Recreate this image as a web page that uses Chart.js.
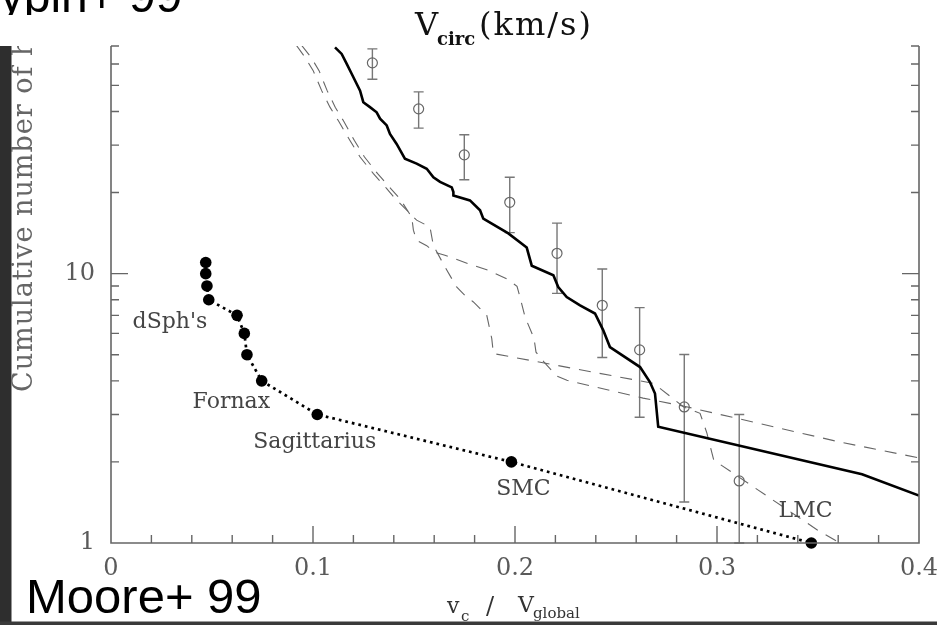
<!DOCTYPE html>
<html>
<head>
<meta charset="utf-8">
<script src="https://cdn.jsdelivr.net/npm/chart.js@4.4.0/dist/chart.umd.min.js"></script>
<style>
  html, body { margin: 0; padding: 0; background: #fff; }
  canvas { display: block; }
</style>
</head>
<body>
<canvas id="chart" width="937" height="625"></canvas>
<script>
// Спутники Млечного Пути (точки с пунктиром)
const satX = [0.0469, 0.0469, 0.0475, 0.0484, 0.0624, 0.0660, 0.0673, 0.0746, 0.1021, 0.1982, 0.3467];
const satN = [11, 10, 9, 8, 7, 6, 5, 4, 3, 2, 1];
const satNames = ["dSph's", 'Fornax', 'Sagittarius', 'SMC', 'LMC'];
const satNameX = [0.0107, 0.0404, 0.0704, 0.1907, 0.3305];
const satNameN = [6.27, 3.16, 2.25, 1.51, 1.25];

// Открытые кружки с ошибками
const obsX = [0.1294, 0.1523, 0.1749, 0.1974, 0.2208, 0.2432, 0.2617, 0.2838, 0.3110];
const obsN = [60.6, 40.9, 27.6, 18.4, 11.9, 7.63, 5.21, 3.20, 1.70];
const obsHigh = [68.3, 47.3, 32.8, 22.8, 15.4, 10.4, 7.48, 5.01, 3.0];
const obsLow = [52.7, 34.7, 22.3, 14.2, 8.45, 4.88, 2.93, 1.42, 1.0];

// Сплошная линия
const solidX = [0.1109, 0.1142, 0.1167, 0.1192, 0.1233, 0.1249, 0.1282, 0.1315, 0.1332, 0.1365, 0.1381, 0.1414, 0.1455,
  0.1513, 0.1563, 0.1596, 0.1629, 0.1687, 0.1695, 0.1695, 0.1777, 0.1827, 0.1843, 0.1967, 0.2058, 0.2083, 0.2190,
  0.2214, 0.2256, 0.2322, 0.2396, 0.2437, 0.2470, 0.2619, 0.2668, 0.2693, 0.2709, 0.3718, 0.4];
const solidN = [69.2, 65.4, 60.1, 55.1, 47.8, 43.3, 41.5, 39.7, 37.6, 35.5, 33.0, 30.3, 26.7,
  25.6, 24.5, 22.8, 21.9, 20.9, 20.1, 19.5, 18.7, 17.2, 16.0, 14.1, 12.5, 10.7, 9.86,
  8.92, 8.19, 7.63, 7.11, 6.16, 5.34, 4.50, 3.96, 3.59, 2.70, 1.80, 1.50];

// Штриховые линии
const dashAX = [0.0919, 0.0960, 0.1001, 0.1043, 0.1084, 0.1125, 0.1183, 0.1233, 0.1299, 0.1365, 0.1406, 0.1464,
  0.1513, 0.1579, 0.1596, 0.1653, 0.1711, 0.1752, 0.1794, 0.1860, 0.1885, 0.1893, 0.2602, 0.2687, 0.2835,
  0.2916, 0.2950, 0.2984, 0.3083, 0.3495, 0.3609];
const dashAN = [70.2, 63.6, 56.7, 47.8, 41.5, 37.0, 31.2, 27.1, 23.5, 20.7, 19.0, 17.2,
  15.8, 14.9, 12.7, 10.6, 8.92, 8.31, 7.85, 7.01, 5.74, 5.05, 4.02, 3.91, 3.20,
  3.03, 2.56, 2.03, 1.81, 1.12, 1.0];
const dashBX = [0.0945, 0.0990, 0.1030, 0.1070, 0.1110, 0.1150, 0.1205, 0.1255, 0.1320, 0.1385, 0.1430, 0.1489,
  0.1497, 0.1513, 0.1563, 0.1604, 0.1653, 0.1767, 0.1866, 0.1965, 0.2010, 0.2025, 0.2050, 0.2094, 0.2104,
  0.2144, 0.2208, 0.2257, 0.2634, 0.2837, 0.3609, 0.4];
const dashBN = [70.2, 63.6, 56.7, 47.8, 41.5, 37.0, 31.2, 27.1, 23.5, 20.7, 19.0, 16.2,
  14.5, 13.3, 12.7, 12.0, 11.7, 10.9, 10.3, 9.52, 8.97, 8.17, 6.89, 5.76, 5.11,
  4.69, 4.16, 4.02, 3.45, 3.22, 2.37, 2.07];

// Подписи осей
const xTickValues = [0, 0.1, 0.2, 0.3, 0.4];
const xTickLabels = ['0', '0.1', '0.2', '0.3', '0.4'];
const yTickValues = [1, 10];
const yTickLabels = ['1', '10'];

const serif = '"DejaVu Serif", serif';
const sans = '"Liberation Sans", Arial, sans-serif';

function zip(xs, ys) {
    return xs.map((x, i) => ({ x: x, y: ys[i] }));
}

// Оси, метки, ошибки и надписи
const decorPlugin = {
    id: 'decor',
    beforeDatasetsDraw(chart) {
        const ctx = chart.ctx;
        const xs = chart.scales.x, ys = chart.scales.y;
        ctx.save();
        ctx.strokeStyle = '#777';
        ctx.lineWidth = 1.4;
        obsX.forEach((x, i) => {
            const px = xs.getPixelForValue(x);
            const top = ys.getPixelForValue(obsHigh[i]);
            const bot = ys.getPixelForValue(obsLow[i]);
            ctx.beginPath();
            ctx.moveTo(px, top); ctx.lineTo(px, bot);
            ctx.moveTo(px - 5, top); ctx.lineTo(px + 5, top);
            ctx.moveTo(px - 5, bot); ctx.lineTo(px + 5, bot);
            ctx.stroke();
        });
        ctx.restore();
    },
    afterDraw(chart) {
        const ctx = chart.ctx;
        const a = chart.chartArea;
        const xs = chart.scales.x, ys = chart.scales.y;
        ctx.save();

        // рамка
        ctx.strokeStyle = '#666';
        ctx.lineWidth = 1.6;
        ctx.beginPath();
        ctx.moveTo(a.left, a.top); ctx.lineTo(a.left, a.bottom); ctx.lineTo(a.right, a.bottom); ctx.lineTo(a.right, a.top);
        ctx.stroke();

        // засечки по x
        ctx.lineWidth = 1.4;
        ctx.beginPath();
        for (let k = 1; k < 20; k++) {
            const px = xs.getPixelForValue(k * 0.02);
            const len = k % 5 === 0 ? 17 : 8;
            ctx.moveTo(px, a.bottom); ctx.lineTo(px, a.bottom - len);
        }
        // засечки по y (лог)
        [2, 3, 4, 5, 6, 7, 8, 9, 10, 20, 30, 40, 50, 60, 70].forEach(v => {
            const py = ys.getPixelForValue(v);
            const len = v === 10 ? 17 : 8;
            ctx.moveTo(a.left, py); ctx.lineTo(a.left + len, py);
            ctx.moveTo(a.right, py); ctx.lineTo(a.right - len, py);
        });
        ctx.stroke();

        // подписи засечек
        ctx.fillStyle = '#5a5a5a';
        ctx.font = '24px ' + serif;
        ctx.textAlign = 'center';
        ctx.textBaseline = 'middle';
        xTickValues.forEach((v, i) => {
            ctx.fillText(xTickLabels[i], xs.getPixelForValue(v), 569);
        });
        ctx.textAlign = 'right';
        yTickValues.forEach((v, i) => {
            ctx.fillText(yTickLabels[i], 95, ys.getPixelForValue(v));
        });

        // названия спутников
        ctx.fillStyle = '#444';
        ctx.font = '22px ' + serif;
        ctx.textAlign = 'left';
        ctx.textBaseline = 'alphabetic';
        satNames.forEach((name, i) => {
            ctx.fillText(name, xs.getPixelForValue(satNameX[i]), ys.getPixelForValue(satNameN[i]));
        });

        // подпись оси x: v_c / V_global
        ctx.fillStyle = '#333';
        ctx.font = '22px ' + serif;
        ctx.fillText('v', 447, 613);
        ctx.fillText('V', 518, 612);
        ctx.font = '24px ' + serif;
        ctx.fillText('/', 486, 614);
        ctx.font = '15px ' + serif;
        ctx.fillText('c', 461, 621);
        ctx.fillText('global', 533, 618);

        // верхний заголовок V_circ(km/s)
        ctx.fillStyle = '#111';
        ctx.font = '32px ' + serif;
        ctx.fillText('V', 415, 35);
        ctx.letterSpacing = '2px';
        ctx.fillText('(km/s)', 479, 35);
        ctx.letterSpacing = '0px';
        ctx.font = 'bold 18px ' + serif;
        ctx.fillText('circ', 437, 45);

        // тёмная полоса слева и линия снизу
        ctx.fillStyle = '#2e2e2e';
        ctx.fillRect(0, 46, 11.5, 579);
        ctx.fillStyle = '#3a3a3a';
        ctx.fillRect(0, 621.5, 937, 3.5);

        // повернутая подпись оси y
        ctx.save();
        ctx.beginPath();
        ctx.rect(0, 46, 111, 579);
        ctx.clip();
        ctx.translate(32, 392);
        ctx.rotate(-Math.PI / 2);
        ctx.fillStyle = '#666';
        ctx.font = '27px ' + serif;
        ctx.letterSpacing = '1px';
        ctx.fillText('Cumulative number of halos', 0, 0);
        ctx.letterSpacing = '0px';
        ctx.restore();

        // надписи слайда
        ctx.fillStyle = '#000';
        ctx.font = '49px ' + sans;
        ctx.fillText('Moore+ 99', 26, 613);
        ctx.save();
        ctx.beginPath();
        ctx.rect(0, 0, 937, 15);
        ctx.clip();
        ctx.font = '48px ' + sans;
        ctx.fillText('Klypin+ 99', -43, 12);
        ctx.restore();

        ctx.restore();
    }
};

new Chart(document.getElementById('chart').getContext('2d'), {
    type: 'scatter',
    data: {
        datasets: [
            {
                data: zip(satX, satN),
                showLine: true,
                borderColor: '#000',
                borderWidth: 2.7,
                borderDash: [2.7, 4],
                pointRadius: 5.8,
                pointBackgroundColor: '#000',
                pointBorderWidth: 0,
                clip: false
            },
            {
                data: zip(obsX, obsN),
                showLine: false,
                pointRadius: 5,
                pointBackgroundColor: 'rgba(0,0,0,0)',
                pointBorderColor: '#666',
                pointBorderWidth: 1.2
            },
            {
                data: zip(solidX, solidN),
                showLine: true,
                borderColor: '#000',
                borderWidth: 2.6,
                pointRadius: 0
            },
            {
                data: zip(dashAX, dashAN),
                showLine: true,
                borderColor: '#666',
                borderWidth: 1.1,
                borderDash: [12, 9],
                pointRadius: 0
            },
            {
                data: zip(dashBX, dashBN),
                showLine: true,
                borderColor: '#666',
                borderWidth: 1.1,
                borderDash: [12, 9],
                pointRadius: 0
            }
        ]
    },
    options: {
        responsive: false,
        animation: false,
        events: [],
        layout: { padding: { left: 111, right: 18, top: 46, bottom: 82 } },
        plugins: {
            legend: { display: false },
            tooltip: { enabled: false }
        },
        scales: {
            x: { type: 'linear', min: 0, max: 0.4, display: false },
            y: { type: 'logarithmic', min: 1, max: 70, display: false }
        }
    },
    plugins: [decorPlugin]
});
</script>
</body>
</html>
